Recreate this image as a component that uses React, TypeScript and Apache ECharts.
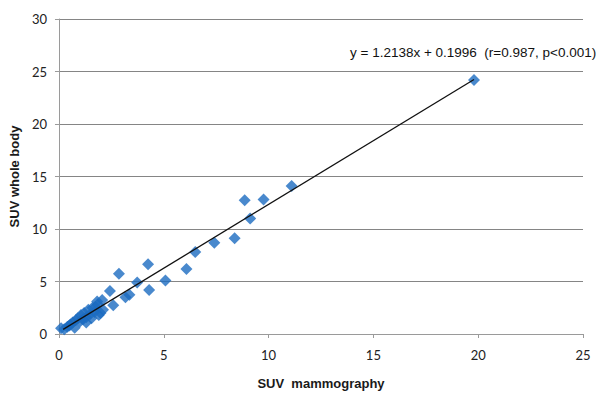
import React, { useEffect, useRef } from "react";
import * as echarts from "echarts";

const suvMammography = [
  19.8, 11.1, 8.86, 9.76, 9.12, 8.38, 7.41, 6.5, 6.08, 5.08, 4.25, 4.3, 3.73,
  2.86, 2.43, 3.36, 3.17, 2.59, 2.06, 1.82, 1.74, 1.98,
  0.1, 0.25, 0.4, 0.55, 0.65, 0.75, 0.8, 0.9, 1.0, 1.05, 1.15, 1.2, 1.3, 1.4,
  1.5, 1.55, 1.6, 1.7, 1.85, 1.9, 2.1, 0.5, 1.3,
];
const suvWholeBody = [
  24.2, 14.1, 12.75, 12.82, 11.0, 9.13, 8.7, 7.8, 6.2, 5.1, 6.65, 4.2, 4.9,
  5.75, 4.1, 3.75, 3.5, 2.75, 3.25, 3.1, 2.6, 2.0,
  0.55, 0.45, 0.7, 0.9, 1.1, 0.6, 1.3, 1.5, 1.2, 1.8, 1.4, 2.0, 1.6, 2.3,
  1.9, 1.5, 2.5, 2.1, 2.8, 1.8, 2.3, 0.8, 1.1,
];
const slope = 1.2138;
const intercept = 0.1996;
const trendX = [0.2, 19.8];
const equationText = "y = 1.2138x + 0.1996  (r=0.987, p<0.001)";
const xAxisName = "SUV  mammography";
const yAxisName = "SUV whole body";

export default function App() {
  const ref = useRef<HTMLDivElement>(null);
  useEffect(() => {
    document.body.style.margin = "0";
    if (!ref.current) return;
    const chart = echarts.init(ref.current, undefined, { renderer: "svg" });
    const points = suvMammography.map((x, i) => [x, suvWholeBody[i]]);
    const trend = trendX.map((x) => [x, slope * x + intercept]);
    const labelFont = "Lato, 'Liberation Sans', Arial, sans-serif";
    chart.setOption({
      animation: false,
      backgroundColor: "#ffffff",
      grid: { left: 57, right: 21, top: 19, bottom: 56, containLabel: false },
      xAxis: {
        type: "value",
        min: 0,
        max: 25,
        interval: 5,
        name: xAxisName,
        nameLocation: "middle",
        nameGap: 43,
        nameTextStyle: {
          fontFamily: "'Liberation Sans', Arial, sans-serif",
          fontWeight: "bold",
          fontSize: 13,
          color: "#1a1a1a",
        },
        axisLine: { show: true, lineStyle: { color: "#9a9a9a", width: 1 } },
        axisTick: { show: true, length: 4, lineStyle: { color: "#9a9a9a" } },
        axisLabel: { margin: 14, fontSize: 13, color: "#222", fontFamily: labelFont },
        splitLine: { show: false },
      },
      yAxis: {
        type: "value",
        min: 0,
        max: 30,
        interval: 5,
        name: yAxisName,
        nameLocation: "middle",
        nameGap: 31,
        nameTextStyle: {
          fontFamily: "'Liberation Sans', Arial, sans-serif",
          fontWeight: "bold",
          fontSize: 13,
          color: "#1a1a1a",
        },
        axisLine: { show: true, lineStyle: { color: "#9a9a9a", width: 1 } },
        axisTick: { show: true, length: 4, lineStyle: { color: "#9a9a9a" } },
        axisLabel: { margin: 12, fontSize: 13, color: "#222", fontFamily: labelFont },
        splitLine: { show: true, lineStyle: { color: "#858585", width: 1 } },
      },
      series: [
        {
          type: "scatter",
          data: points,
          symbol: "diamond",
          symbolSize: 12,
          itemStyle: { color: "#1c6cc0" },
          z: 2,
        },
        {
          type: "line",
          data: trend,
          symbol: "none",
          lineStyle: { color: "#111", width: 1.3 },
          z: 3,
        },
      ],
      graphic: [
        {
          type: "text",
          left: 350,
          top: 45,
          style: {
            text: equationText,
            fontSize: 13.5,
            fontFamily: "'Liberation Sans', Arial, sans-serif",
            fill: "#111",
          },
        },
      ],
    });
    return () => chart.dispose();
  }, []);
  return <div ref={ref} style={{ width: 604, height: 395 }} />;
}
